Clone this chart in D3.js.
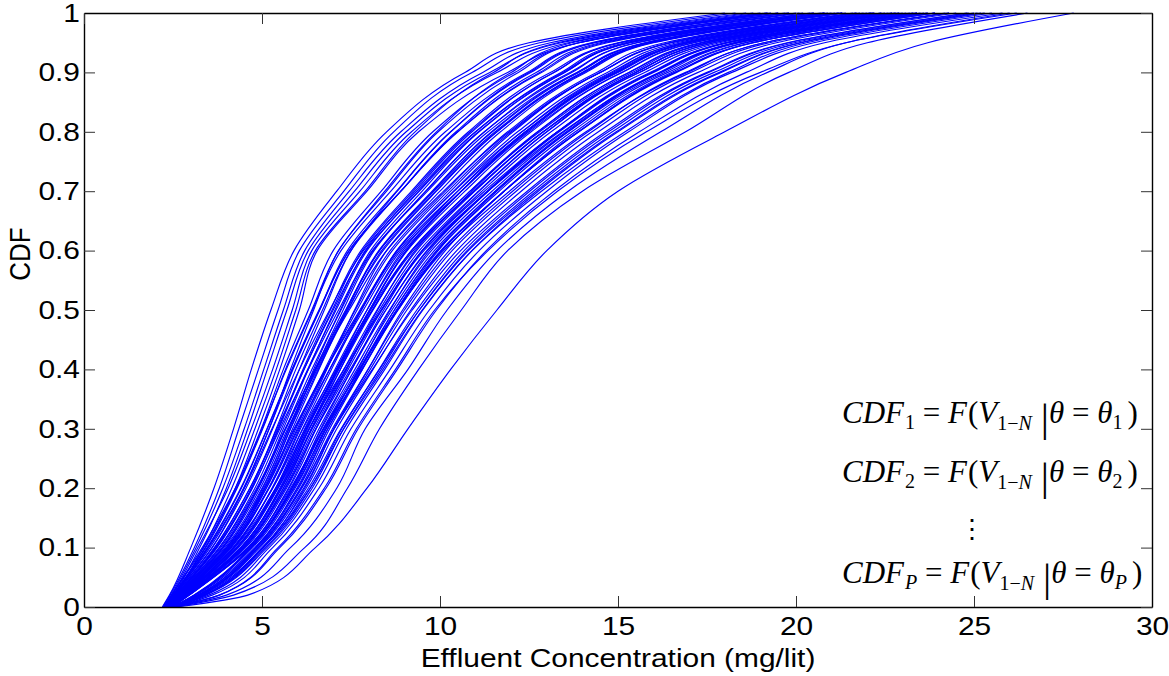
<!DOCTYPE html>
<html>
<head>
<meta charset="utf-8">
<script src="https://cdn.jsdelivr.net/npm/d3@7"></script>
<style>
  body { margin: 0; background: #fff; }
</style>
</head>
<body>
<svg id="chart" width="1169" height="676"></svg>
<script>
let cdfLevels = [0, 0.02, 0.1, 0.2, 0.3, 0.4, 0.5, 0.6, 0.7, 0.8, 0.9, 0.95, 1];

// the few steep curves on the left of the bundle
let leftCurves = [
    [2.2, 2.4, 3.0, 3.65, 4.2, 4.7, 5.25, 5.9, 7.1, 8.5, 10.7, 12.5, 18.0],
    [2.22, 2.42, 3.1, 3.8, 4.35, 4.9, 5.45, 6.05, 7.3, 8.7, 10.9, 12.8, 18.3],
    [2.25, 2.45, 3.15, 3.9, 4.5, 5.05, 5.6, 6.2, 7.45, 8.9, 11.2, 13.1, 18.6],
    [2.24, 2.5, 3.25, 4.0, 4.6, 5.15, 5.7, 6.3, 7.6, 9.05, 11.4, 13.4, 19.0],
    [2.27, 2.48, 3.2, 4.05, 4.7, 5.3, 5.85, 6.4, 7.75, 9.2, 11.6, 13.6, 19.2],
    [2.3, 2.55, 3.35, 4.15, 4.8, 5.4, 5.95, 6.5, 7.9, 9.3, 11.5, 13.3, 18.8],
    [2.28, 2.52, 3.4, 4.25, 4.9, 5.5, 6.05, 6.55, 7.95, 9.4, 11.9, 13.9, 19.5]
];

// the dense middle of the bundle
let coreCurves = [
    [2.25, 2.46, 3.32, 4.25, 4.98, 5.6, 6.3, 7.0, 8.35, 9.8, 12.1, 13.9, 19.3],
    [2.27, 2.5, 3.42, 4.3, 5.02, 5.66, 6.4, 7.15, 8.45, 9.9, 12.0, 13.7, 19.2],
    [2.29, 2.52, 3.48, 4.42, 5.15, 5.85, 6.62, 7.45, 8.9, 10.5, 12.8, 14.6, 20.0],
    [2.3, 2.56, 3.6, 4.55, 5.3, 5.95, 6.7, 7.5, 8.9, 10.45, 12.7, 14.5, 20.1],
    [2.32, 2.6, 3.72, 4.7, 5.4, 6.05, 6.75, 7.5, 8.8, 10.3, 12.5, 14.3, 19.8],
    [2.31, 2.62, 3.68, 4.66, 5.45, 6.15, 6.92, 7.78, 9.2, 10.8, 13.1, 15.0, 20.4],
    [2.34, 2.64, 3.8, 4.8, 5.55, 6.28, 7.08, 7.95, 9.4, 11.0, 13.4, 15.2, 20.7],
    [2.36, 2.68, 3.92, 4.95, 5.72, 6.55, 7.4, 8.4, 9.9, 11.6, 14.0, 15.9, 21.3],
    [2.35, 2.66, 3.88, 4.9, 5.66, 6.4, 7.22, 8.12, 9.6, 11.25, 13.7, 15.5, 20.9],
    [2.37, 2.7, 4.0, 5.05, 5.8, 6.58, 7.42, 8.36, 9.88, 11.6, 14.05, 15.95, 21.3],
    [2.38, 2.72, 4.02, 5.02, 5.75, 6.45, 7.2, 8.05, 9.5, 11.1, 13.5, 15.3, 20.8],
    [2.39, 2.75, 4.12, 5.18, 5.95, 6.76, 7.62, 8.6, 10.15, 11.9, 14.4, 16.3, 21.6],
    [2.4, 2.74, 4.08, 5.2, 6.02, 6.9, 7.85, 8.9, 10.6, 12.5, 15.1, 17.1, 22.4],
    [2.41, 2.8, 4.2, 5.3, 6.08, 6.9, 7.78, 8.8, 10.38, 12.18, 14.7, 16.65, 21.9],
    [2.42, 2.78, 4.22, 5.28, 6.05, 6.82, 7.6, 8.5, 10.0, 11.7, 14.1, 16.0, 21.4],
    [2.43, 2.83, 4.3, 5.4, 6.2, 7.05, 7.95, 9.0, 10.6, 12.45, 15.0, 17.0, 22.2],
    [2.42, 2.82, 4.28, 5.42, 6.25, 7.15, 8.1, 9.2, 10.85, 12.8, 15.4, 17.4, 22.7],
    [2.44, 2.86, 4.4, 5.52, 6.33, 7.2, 8.12, 9.2, 10.84, 12.74, 15.32, 17.35, 22.6],
    [2.45, 2.88, 4.42, 5.5, 6.28, 7.1, 7.95, 8.95, 10.5, 12.3, 14.8, 16.8, 22.0],
    [2.46, 2.9, 4.5, 5.64, 6.46, 7.36, 8.3, 9.42, 11.08, 13.0, 15.6, 17.7, 22.9],
    [2.45, 2.9, 4.48, 5.66, 6.52, 7.48, 8.48, 9.65, 11.35, 13.35, 16.0, 18.1, 23.3],
    [2.48, 2.94, 4.6, 5.76, 6.6, 7.52, 8.48, 9.63, 11.32, 13.3, 15.95, 18.05, 23.2],
    [2.47, 2.95, 4.62, 5.74, 6.52, 7.38, 8.25, 9.3, 10.9, 12.75, 15.3, 17.3, 22.5],
    [2.5, 3.1, 4.7, 5.88, 6.72, 7.67, 8.65, 9.84, 11.56, 13.6, 16.3, 18.4, 23.6],
    [2.49, 3.08, 4.68, 5.9, 6.8, 7.8, 8.82, 10.05, 11.8, 13.9, 16.6, 18.8, 23.9],
    [2.51, 3.15, 4.8, 6.0, 6.85, 7.82, 8.82, 10.05, 11.8, 13.88, 16.6, 18.75, 23.9],
    [2.52, 3.2, 4.82, 5.98, 6.8, 7.7, 8.6, 9.7, 11.35, 13.3, 15.9, 18.0, 23.1],
    [2.53, 3.25, 4.9, 6.12, 6.98, 7.98, 9.0, 10.26, 12.04, 14.16, 16.9, 19.1, 24.2],
    [2.55, 3.35, 5.0, 6.24, 7.1, 8.12, 9.18, 10.47, 12.28, 14.45, 17.25, 19.45, 24.5],
    [2.54, 3.3, 5.02, 6.2, 7.02, 7.98, 8.95, 10.15, 11.8, 13.8, 16.5, 18.6, 23.7],
    [2.57, 3.4, 5.1, 6.36, 7.24, 8.29, 9.35, 10.68, 12.52, 14.73, 17.55, 19.8, 24.85],
    [2.58, 3.5, 5.2, 6.48, 7.37, 8.45, 9.52, 10.9, 12.76, 15.0, 17.9, 20.15, 25.2],
    [2.6, 3.6, 5.3, 6.6, 7.5, 8.6, 9.7, 11.1, 13.0, 15.3, 18.2, 20.5, 25.5],
    [2.56, 3.38, 5.05, 6.35, 7.3, 8.4, 9.5, 10.9, 12.85, 15.2, 18.1, 20.3, 25.3],
    [2.33, 2.6, 3.7, 4.72, 5.5, 6.3, 7.15, 8.1, 9.65, 11.35, 13.85, 15.8, 21.1],
    [2.4, 2.79, 4.18, 5.3, 6.15, 7.08, 8.05, 9.2, 10.95, 12.9, 15.6, 17.7, 22.9],
    [2.46, 2.9, 4.5, 5.6, 6.38, 7.2, 8.05, 9.05, 10.6, 12.4, 14.9, 16.9, 22.1],
    [2.36, 2.66, 3.9, 4.88, 5.6, 6.3, 7.05, 7.9, 9.3, 10.9, 13.2, 15.05, 20.5],
    [2.43, 2.82, 4.3, 5.45, 6.32, 7.3, 8.35, 9.55, 11.35, 13.45, 16.2, 18.35, 23.5],
    [2.28, 2.54, 3.5, 4.5, 5.28, 6.05, 6.9, 7.85, 9.35, 11.0, 13.45, 15.3, 20.8],
    [2.48, 2.94, 4.6, 5.8, 6.72, 7.75, 8.8, 10.1, 11.95, 14.1, 16.95, 19.1, 24.3],
    [2.53, 3.25, 4.9, 6.08, 6.9, 7.82, 8.78, 9.95, 11.6, 13.6, 16.2, 18.3, 23.4],
    [2.3, 2.56, 3.6, 4.5, 5.2, 5.8, 6.45, 7.15, 8.5, 9.95, 12.2, 13.9, 19.5],
    [2.39, 2.76, 4.1, 5.12, 5.86, 6.6, 7.38, 8.3, 9.8, 11.45, 13.85, 15.75, 21.2],
    [2.44, 2.86, 4.4, 5.55, 6.4, 7.35, 8.35, 9.5, 11.25, 13.3, 15.95, 18.05, 23.3],
    [2.34, 2.64, 3.8, 4.85, 5.65, 6.5, 7.45, 8.5, 10.1, 11.95, 14.5, 16.5, 21.8],
    [2.5, 3.1, 4.7, 5.85, 6.65, 7.52, 8.42, 9.5, 11.1, 13.0, 15.5, 17.5, 22.7],
    [2.37, 2.7, 4.0, 5.08, 5.9, 6.78, 7.75, 8.8, 10.4, 12.3, 14.85, 16.8, 22.1],
    [2.29, 2.54, 3.54, 4.48, 5.2, 5.87, 6.62, 7.4, 8.78, 10.3, 12.55, 14.35, 19.8],
    [2.31, 2.58, 3.66, 4.66, 5.42, 6.18, 7.0, 7.92, 9.42, 11.08, 13.5, 15.35, 20.8],
    [2.33, 2.62, 3.74, 4.73, 5.47, 6.18, 6.97, 7.82, 9.25, 10.85, 13.2, 15.05, 20.5],
    [2.35, 2.66, 3.84, 4.88, 5.67, 6.48, 7.35, 8.3, 9.83, 11.55, 14.0, 15.9, 21.3],
    [2.37, 2.68, 3.96, 5.0, 5.76, 6.52, 7.36, 8.28, 9.78, 11.47, 13.9, 15.8, 21.2],
    [2.38, 2.73, 4.06, 5.08, 5.8, 6.5, 7.28, 8.15, 9.6, 11.25, 13.65, 15.55, 21.0],
    [2.4, 2.77, 4.14, 5.2, 5.99, 6.8, 7.67, 8.66, 10.22, 12.0, 14.5, 16.45, 21.7],
    [2.42, 2.81, 4.24, 5.38, 6.22, 7.12, 8.1, 9.25, 10.95, 12.9, 15.5, 17.55, 22.8],
    [2.43, 2.84, 4.34, 5.45, 6.25, 7.11, 8.02, 9.08, 10.7, 12.56, 15.12, 17.15, 22.4],
    [2.45, 2.87, 4.44, 5.55, 6.33, 7.15, 8.02, 9.05, 10.6, 12.4, 14.95, 16.95, 22.15],
    [2.47, 2.92, 4.54, 5.69, 6.51, 7.42, 8.37, 9.5, 11.18, 13.12, 15.75, 17.85, 23.0],
    [2.48, 2.95, 4.64, 5.84, 6.74, 7.74, 8.78, 10.02, 11.8, 13.9, 16.65, 18.8, 23.9],
    [2.5, 3.12, 4.74, 5.93, 6.77, 7.73, 8.72, 9.92, 11.66, 13.7, 16.4, 18.55, 23.7],
    [2.52, 3.2, 4.84, 6.03, 6.85, 7.77, 8.72, 9.9, 11.55, 13.55, 16.2, 18.3, 23.4],
    [2.54, 3.28, 4.94, 6.17, 7.03, 8.04, 9.07, 10.34, 12.14, 14.27, 17.05, 19.25, 24.3],
    [2.55, 3.35, 5.04, 6.3, 7.22, 8.3, 9.42, 10.8, 12.7, 14.95, 17.85, 20.1, 25.1],
    [2.57, 3.42, 5.14, 6.41, 7.29, 8.35, 9.42, 10.76, 12.62, 14.84, 17.7, 19.95, 25.0],
    [2.28, 2.52, 3.46, 4.4, 5.14, 5.84, 6.6, 7.45, 8.9, 10.5, 12.85, 14.7, 20.2],
    [2.46, 2.88, 4.46, 5.6, 6.41, 7.3, 8.23, 9.34, 10.98, 12.9, 15.5, 17.55, 22.8],
    [2.38, 2.72, 4.04, 5.12, 5.92, 6.8, 7.78, 8.85, 10.5, 12.4, 14.95, 16.95, 22.2],
    [2.43, 2.83, 4.3, 5.38, 6.14, 6.95, 7.8, 8.78, 10.3, 12.05, 14.5, 16.45, 21.7],
    [2.49, 2.96, 4.66, 5.83, 6.67, 7.61, 8.58, 9.76, 11.46, 13.48, 16.15, 18.25, 23.4],
    [2.53, 3.24, 4.86, 6.1, 7.02, 8.1, 9.22, 10.58, 12.45, 14.65, 17.5, 19.75, 24.8],
    [2.26, 2.47, 3.36, 4.28, 5.0, 5.68, 6.42, 7.22, 8.62, 10.15, 12.45, 14.25, 19.7]
];

// the slow curves on the right edge
let rightCurves = [
    [2.48, 3.8, 5.45, 6.75, 7.65, 8.75, 9.85, 11.35, 13.3, 15.8, 19.0, 21.4, 26.2],
    [2.5, 3.8, 5.5, 6.8, 7.7, 8.8, 9.9, 11.3, 13.2, 15.6, 18.6, 20.8, 25.8],
    [2.5, 4.0, 5.8, 7.1, 7.9, 9.1, 10.2, 11.6, 13.6, 16.2, 19.2, 21.4, 26.0],
    [2.55, 4.2, 6.2, 7.4, 8.3, 9.4, 10.6, 11.9, 14.0, 16.9, 19.8, 22.0, 26.5],
    [2.6, 4.6, 6.5, 7.95, 9.1, 10.3, 11.6, 13.0, 15.0, 18.0, 21.4, 23.7, 27.8]
];

let xTicks = [0, 5, 10, 15, 20, 25, 30];
let yTicks = [0, 0.1, 0.2, 0.3, 0.4, 0.5, 0.6, 0.7, 0.8, 0.9, 1];
let yTickLabels = ["0", "0.1", "0.2", "0.3", "0.4", "0.5", "0.6", "0.7", "0.8", "0.9", "1"];
let eqSubs = ["1", "2", "P"];

let svg = d3.select("#chart");
let plotLeft = 84, plotRight = 1152, plotTop = 13, plotBottom = 607;
let stretch = "scale(1.15,1)";
let sans = "'Liberation Sans', Arial, sans-serif";
let serif = "'Liberation Serif', 'Times New Roman', serif";

let x = d3.scaleLinear().domain([0, 30]).range([plotLeft, plotRight]);
let y = d3.scaleLinear().domain([0, 1]).range([plotBottom, plotTop]);

// curves
let allCurves = leftCurves.concat(coreCurves, rightCurves);
let series = allCurves.map(xs => xs.map((v, i) => ({ x: v, p: cdfLevels[i] })));

let line = d3.line()
    .x(d => x(d.x))
    .y(d => y(d.p))
    .curve(d3.curveMonotoneY);

svg.append("g")
    .selectAll("path")
    .data(series)
    .enter()
    .append("path")
    .attr("d", line)
    .attr("fill", "none")
    .attr("stroke", "#0000ff")
    .attr("stroke-width", 1.15);

// box axes, ticks pointing inward
let tickLen = 11;
let gx = svg.append("g").attr("transform", "translate(0," + plotBottom + ")")
    .call(d3.axisBottom(x).tickValues(xTicks).tickSizeInner(-tickLen).tickSizeOuter(0).tickPadding(10));
let gy = svg.append("g").attr("transform", "translate(" + plotLeft + ",0)")
    .call(d3.axisLeft(y).tickValues(yTicks).tickSizeInner(-tickLen).tickSizeOuter(0).tickPadding(3.5)
        .tickFormat((d, i) => yTickLabels[i]));
let gt = svg.append("g").attr("transform", "translate(0," + plotTop + ")")
    .call(d3.axisTop(x).tickValues(xTicks).tickSizeInner(-tickLen).tickSizeOuter(0).tickFormat(""));
let gr = svg.append("g").attr("transform", "translate(" + plotRight + ",0)")
    .call(d3.axisRight(y).tickValues(yTicks).tickSizeInner(-tickLen).tickSizeOuter(0).tickFormat(""));

[gx, gy, gt, gr].forEach(g => {
    g.select(".domain").attr("stroke", "#000").attr("stroke-width", 1.4);
    g.selectAll(".tick line").attr("stroke", "#333").attr("stroke-width", 1);
    g.selectAll(".tick text")
        .attr("fill", "#000")
        .attr("font-size", 26)
        .attr("font-family", sans)
        .attr("transform", stretch);
});

// axis titles
svg.append("text")
    .attr("transform", "translate(" + ((plotLeft + plotRight) / 2) + ",667) " + stretch)
    .attr("text-anchor", "middle")
    .attr("font-family", sans)
    .attr("font-size", 26)
    .text("Effluent Concentration (mg/lit)");

svg.append("text")
    .attr("transform", "translate(30,254) " + stretch + " rotate(-90)")
    .attr("text-anchor", "middle")
    .attr("font-family", sans)
    .attr("font-size", 26)
    .text("CDF");

// equation block
let eqBase = [423, 482, 583];
eqSubs.forEach((s, i) => {
    let t = svg.append("text")
        .attr("x", 842)
        .attr("y", eqBase[i])
        .attr("font-family", serif)
        .attr("font-size", 31)
        .attr("fill", "#000");
    let parts = [
        ["CDF", "italic", 31, 0, 0],
        [s, s === "P" ? "italic" : "normal", 20, 6, 1],
        [" = ", "normal", 31, -6, 0],
        ["F", "italic", 31, 0, 0],
        ["(", "normal", 31, 0, 1],
        ["V", "italic", 31, 0, 0],
        ["1\u2212", "normal", 20, 7, 0],
        ["N", "italic", 20, 0, 0],
        ["|", "normal", 41, 1, 9],
        ["\u03B8", "italic", 31, -8, 0],
        [" = ", "normal", 31, 0, 0],
        ["\u03B8", "italic", 31, 0, 0],
        [s, s === "P" ? "italic" : "normal", 20, 6, 0],
        [")", "normal", 31, -6, 5]
    ];
    parts.forEach(p => {
        t.append("tspan")
            .attr("font-style", p[1])
            .attr("font-size", p[2])
            .attr("dy", p[3])
            .attr("dx", p[4])
            .text(p[0]);
    });
});

svg.append("text")
    .attr("x", 972)
    .attr("y", 538)
    .attr("text-anchor", "middle")
    .attr("font-family", "'DejaVu Serif', serif")
    .attr("font-size", 26)
    .text("\u22EE");
</script>
</body>
</html>
